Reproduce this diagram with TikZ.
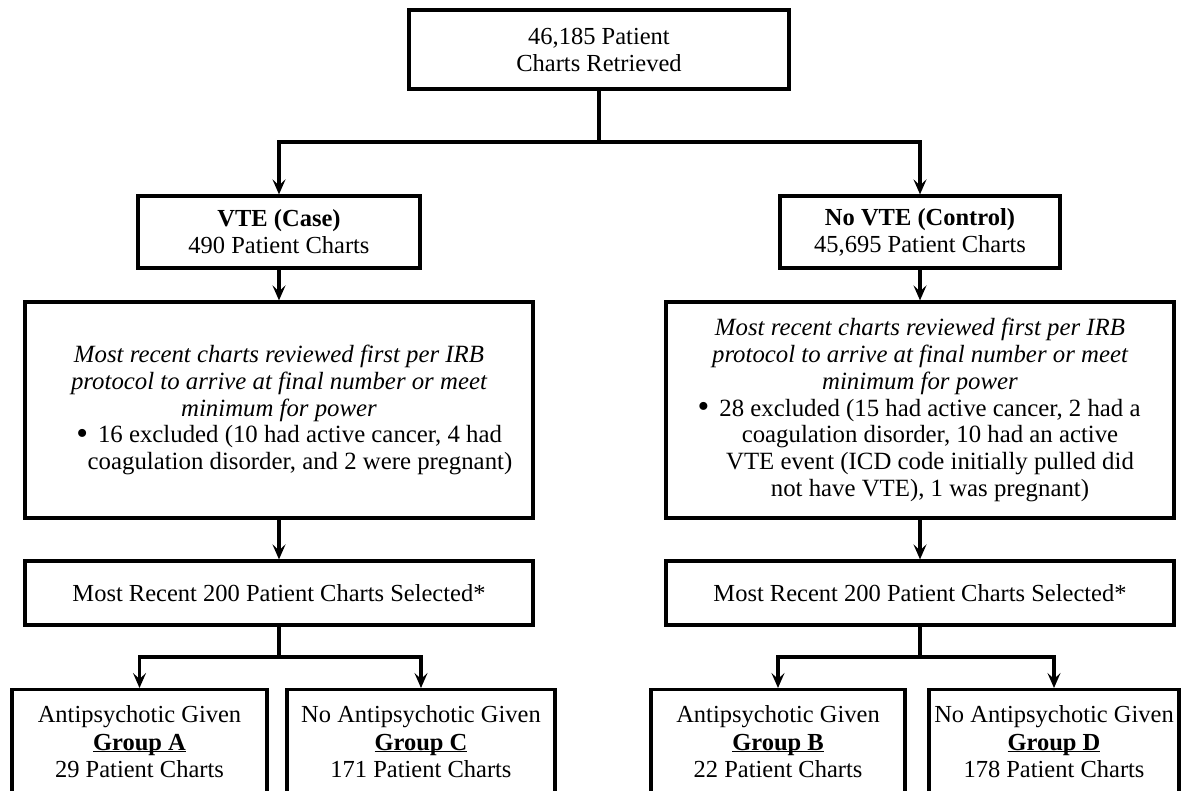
\documentclass[tikz,border=0pt]{standalone}
\usepackage{fontspec}
\setmainfont{Liberation Serif}
\usetikzlibrary{arrows.meta}

\newcommand{\bul}{\llap{\raisebox{-1.5pt}{\scalebox{1.35}{\textbullet}}\hspace{10pt}}}
\newcommand{\grp}[1]{\underline{\smash{\textbf{#1}}}}

\begin{document}
\begin{tikzpicture}[x=1pt, y=-1pt,
  >={Stealth[length=15pt,width=13pt,inset=6pt]},
  every node/.style={font=\fontsize{24.5}{27}\selectfont},
  box/.style={draw, line width=3.2pt, inner sep=0pt, align=center},
  group/.style={box, anchor=north, inner ysep=16pt, text depth=40pt, font=\fontsize{24.5}{27.5}\selectfont},
  link/.style={line width=3.2pt}]
  \useasboundingbox (0,0) rectangle (1183,791);
  \clip (0,0) rectangle (1183,791);

  % top
  \node[box, minimum width=380pt, minimum height=79pt] (all) at (599,49.5) {46,185 Patient\\Charts Retrieved};
  \coordinate (split) at (599,142);

  % case / control
  \node[box, minimum width=282pt, minimum height=72pt] (case) at (279,232) {\textbf{VTE (Case)}\\490 Patient Charts};
  \node[box, minimum width=280pt, minimum height=72pt] (ctrl) at (920,232) {\textbf{No VTE (Control)}\\45,695 Patient Charts};

  % review
  \node[box, minimum width=508pt, minimum height=216pt, font=\fontsize{24.8}{26.7}\selectfont] (revA) at (279,410)
    {\itshape Most recent charts reviewed first per IRB\\
     \itshape protocol to arrive at final number or meet\\
     \itshape minimum for power\\
     \hspace*{42pt}\bul 16 excluded (10 had active cancer, 4 had\\
     \hspace*{42pt}coagulation disorder, and 2 were pregnant)};
  \node[box, minimum width=508pt, minimum height=216pt, font=\fontsize{24.8}{26.7}\selectfont] (revB) at (920,410)
    {\itshape Most recent charts reviewed first per IRB\\
     \itshape protocol to arrive at final number or meet\\
     \itshape minimum for power\\
     \hspace*{20pt}\bul 28 excluded (15 had active cancer, 2 had a\\
     \hspace*{20pt}coagulation disorder, 10 had an active\\
     \hspace*{20pt}VTE event (ICD code initially pulled did\\
     \hspace*{20pt}not have VTE), 1 was pregnant)};

  % selected
  \node[box, minimum width=508pt, minimum height=64pt] (selA) at (279,593) {Most Recent 200 Patient Charts Selected*};
  \node[box, minimum width=508pt, minimum height=64pt] (selB) at (920,593) {Most Recent 200 Patient Charts Selected*};
  \coordinate (splitA) at (279,657);
  \coordinate (splitB) at (920,657);

  % groups
  \node[group, minimum width=255pt] (grpA) at (139.5,688) {Antipsychotic Given\\\grp{Group A}\\29 Patient Charts};
  \node[group, minimum width=268pt] (grpC) at (421,688) {No Antipsychotic Given\\\grp{Group C}\\171 Patient Charts};
  \node[group, minimum width=254pt] (grpB) at (778,688) {Antipsychotic Given\\\grp{Group B}\\22 Patient Charts};
  \node[group, minimum width=250pt] (grpD) at (1054,688) {No Antipsychotic Given\\\grp{Group D}\\178 Patient Charts};

  % connectors
  \draw[link] (all) -- (split);
  \draw[link, ->] (split) -| (case);
  \draw[link, ->] (split) -| (ctrl);
  \draw[link, ->] (case) -- (revA);
  \draw[link, ->] (ctrl) -- (revB);
  \draw[link, ->] (revA) -- (selA);
  \draw[link, ->] (revB) -- (selB);
  \draw[link] (selA) -- (splitA);
  \draw[link] (selB) -- (splitB);
  \draw[link, ->] (splitA) -| (grpA);
  \draw[link, ->] (splitA) -| (grpC);
  \draw[link, ->] (splitB) -| (grpB);
  \draw[link, ->] (splitB) -| (grpD);
\end{tikzpicture}
\end{document}
